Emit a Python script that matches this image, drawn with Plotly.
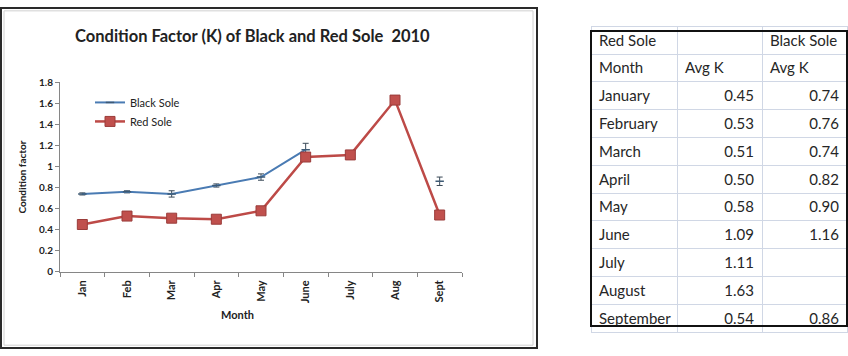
import plotly.graph_objects as go

W, H = 848, 356

months = ["Jan", "Feb", "Mar", "Apr", "May", "June", "July", "Aug", "Sept"]
black_k = [0.74, 0.76, 0.74, 0.82, 0.90, 1.16, None, None, 0.86]
black_err = [0.01, 0.01, 0.03, 0.015, 0.03, 0.06, None, None, 0.04]
red_k = [0.45, 0.53, 0.51, 0.50, 0.58, 1.09, 1.11, 1.63, 0.54]

table_months = ["January", "February", "March", "April", "May", "June",
                "July", "August", "September"]
table_red = ["0.45", "0.53", "0.51", "0.50", "0.58", "1.09", "1.11", "1.63", "0.54"]
table_black = ["0.74", "0.76", "0.74", "0.82", "0.90", "1.16", "", "", "0.86"]
table_header = [["Red\u00a0Sole", "Month"], ["", "Avg\u00a0K"], ["Black\u00a0Sole", "Avg\u00a0K"]]


def px_x(v):
    return v / W


def px_y(v):
    return 1 - v / H


FONT = "Lato"

fig = go.Figure()

fig.add_trace(go.Scatter(
    x=months, y=black_k, name="Black Sole", mode="lines+markers",
    connectgaps=False,
    line=dict(color="#4a7bb3", width=2),
    marker=dict(symbol="line-ew", size=6, line=dict(color="#3d5a75", width=1.5)),
    error_y=dict(type="data", array=black_err, color="#3b4a58", thickness=1, width=3),
))

fig.add_trace(go.Scatter(
    x=months, y=red_k, name="Red Sole", mode="lines+markers",
    line=dict(color="#bd4a47", width=2.5),
    marker=dict(symbol="square", size=10, color="#c0504d",
                line=dict(color="#9a3c3a", width=1)),
))

fig.add_trace(go.Table(
    domain=dict(x=[px_x(591), px_x(847)], y=[px_y(355), px_y(20)]),
    columnwidth=[86, 85, 85],
    header=dict(
        values=table_header,
        align="left", height=27.8,
        fill=dict(color="white"),
        line=dict(color="#d0d7e5", width=1),
        font=dict(family=FONT, size=15, color="#262626"),
    ),
    cells=dict(
        values=[table_months, table_red, table_black],
        align=["left", "right", "right"], height=27.8,
        fill=dict(color="white"),
        line=dict(color="#d0d7e5", width=1),
        font=dict(family=FONT, size=15, color="#262626"),
    ),
))

axis_col = "#868686"

fig.update_layout(
    width=W, height=H,
    margin=dict(l=0, r=0, t=0, b=0),
    paper_bgcolor="white", plot_bgcolor="white",
    font=dict(family=FONT, color="#222222"),
    showlegend=True,
    legend=dict(
        x=px_x(90), y=px_y(84), xanchor="left", yanchor="top",
        bgcolor="rgba(0,0,0,0)", itemwidth=30,
        font=dict(family=FONT, size=11, color="#222222"),
    ),
    xaxis=dict(
        domain=[px_x(60), px_x(462)],
        type="category", range=[-0.5, 8.5],
        showline=True, linecolor=axis_col, linewidth=1,
        ticks="outside", tickson="boundaries", ticklen=4, tickcolor=axis_col,
        tickangle=-90, showgrid=False, zeroline=False, ticklabelstandoff=3,
        tickfont=dict(family=FONT, size=11, color="#222222", weight="bold"),
    ),
    yaxis=dict(
        domain=[px_y(275), px_y(78)],
        range=[0, 1.8], dtick=0.2, tick0=0,
        showline=True, linecolor=axis_col, linewidth=1,
        ticks="outside", ticklen=4, tickcolor=axis_col,
        showgrid=False, zeroline=False,
        tickfont=dict(family=FONT, size=10, color="#222222", weight="bold"),
    ),
    shapes=[
        dict(type="rect", xref="paper", yref="paper",
             x0=px_x(1), x1=px_x(537), y0=px_y(354), y1=px_y(1),
             line=dict(color="#2a2a2a", width=2)),
        dict(type="rect", xref="paper", yref="paper",
             x0=px_x(4), x1=px_x(533), y0=px_y(351), y1=px_y(4),
             line=dict(color="#d0d0d0", width=1)),
        dict(type="rect", xref="paper", yref="paper",
             x0=px_x(591), x1=px_x(847), y0=px_y(331), y1=px_y(25),
             line=dict(color="#111111", width=2)),
    ],
    annotations=[
        dict(text="<b>Condition Factor (K) of Black and Red Sole  2010</b>",
             xref="paper", yref="paper", x=px_x(252), y=px_y(30),
             xanchor="center", yanchor="middle", showarrow=False,
             font=dict(family=FONT, size=16.5, color="#222222")),
        dict(text="<b>Condition factor</b>", textangle=-90,
             xref="paper", yref="paper", x=px_x(22), y=px_y(177),
             xanchor="center", yanchor="middle", showarrow=False,
             font=dict(family=FONT, size=10, color="#222222")),
        dict(text="<b>Month</b>",
             xref="paper", yref="paper", x=px_x(237), y=px_y(319),
             xanchor="center", yanchor="middle", showarrow=False,
             font=dict(family=FONT, size=11, color="#222222")),
    ],
)

fig.write_html("out.html")
